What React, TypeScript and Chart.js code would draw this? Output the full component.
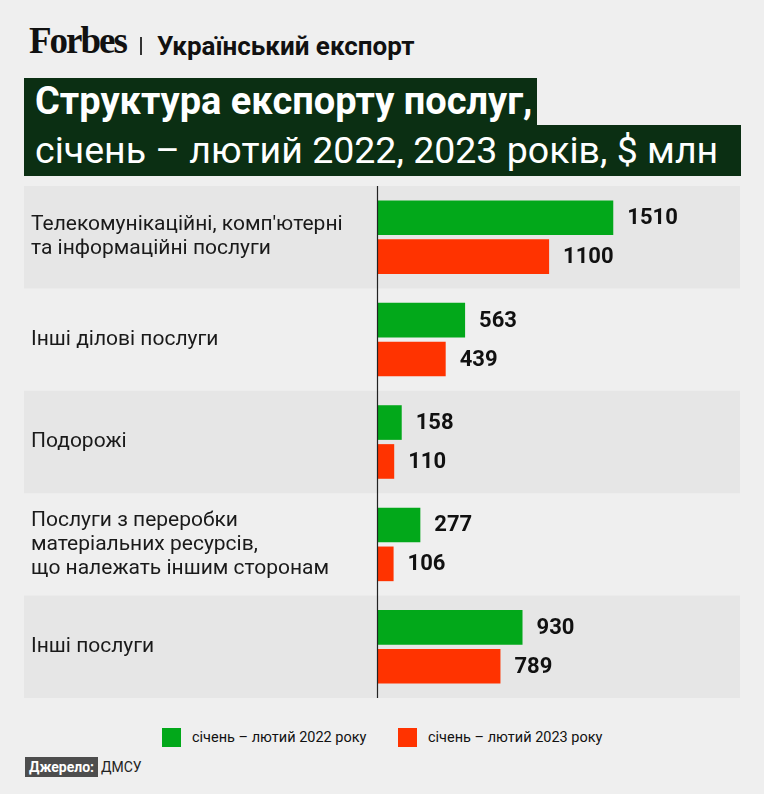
import React, { useEffect, useRef } from 'react';
import { Chart, registerables } from 'chart.js';

Chart.register(...registerables);

// data
const categories: string[][] = [
  ["Телекомунікаційні, комп'ютерні", 'та інформаційні послуги'],
  ['Інші ділові послуги'],
  ['Подорожі'],
  ['Послуги з переробки', 'матеріальних ресурсів,', 'що належать іншим сторонам'],
  ['Інші послуги'],
];
const values2022 = [1510, 563, 158, 277, 930];
const values2023 = [1100, 439, 110, 106, 789];
const seriesNames = ['січень – лютий 2022 року', 'січень – лютий 2023 року'];

const GREEN = '#02a81a';
const RED = '#ff3300';
const BAND = '#e6e6e6';
const PAGE = '#efefef';
const FONT = 'Roboto, "Noto Sans", sans-serif';

// gray stripes behind every other category + the zero axis line + value labels
const decorPlugin = {
  id: 'decor',
  beforeDraw(chart: any) {
    const { ctx, chartArea, scales } = chart;
    const y = scales.y;
    const n = categories.length;
    const h = (chartArea.bottom - chartArea.top) / n;
    ctx.save();
    ctx.fillStyle = BAND;
    for (let i = 0; i < n; i += 2) {
      const c = y.getPixelForValue(i);
      ctx.fillRect(24, c - h / 2, 716, h);
    }
    ctx.restore();
  },
  afterDatasetsDraw(chart: any) {
    const { ctx, chartArea, scales } = chart;
    const x0 = Math.round(scales.x.getPixelForValue(0)) + 0.5;
    ctx.save();
    ctx.strokeStyle = '#222';
    ctx.lineWidth = 1.2;
    ctx.beginPath();
    ctx.moveTo(x0, chartArea.top);
    ctx.lineTo(x0, chartArea.bottom);
    ctx.stroke();

    ctx.fillStyle = '#111';
    ctx.font = `700 22px ${FONT}`;
    ctx.textBaseline = 'middle';
    ctx.textAlign = 'left';
    chart.data.datasets.forEach((ds: any, di: number) => {
      const meta = chart.getDatasetMeta(di);
      meta.data.forEach((el: any, i: number) => {
        ctx.fillText(String(ds.data[i]), el.x + 14, el.y + 1);
      });
    });
    ctx.restore();
  },
};

function BarChart() {
  const canvasRef = useRef<HTMLCanvasElement>(null);

  useEffect(() => {
    if (!canvasRef.current) return;
    const chart = new Chart(canvasRef.current, {
      type: 'bar',
      data: {
        labels: categories,
        datasets: [
          {
            label: seriesNames[0],
            data: values2022,
            backgroundColor: GREEN,
            categoryPercentage: 0.76,
            barPercentage: 0.89,
          },
          {
            label: seriesNames[1],
            data: values2023,
            backgroundColor: RED,
            categoryPercentage: 0.76,
            barPercentage: 0.89,
          },
        ],
      },
      options: {
        indexAxis: 'y',
        animation: false,
        responsive: true,
        maintainAspectRatio: false,
        layout: { padding: { left: 31, right: 24, top: 6, bottom: 7 } },
        plugins: {
          legend: { display: false },
          tooltip: { enabled: false },
        },
        scales: {
          x: {
            display: false,
            min: 0,
            max: 2320,
          },
          y: {
            grid: { display: false },
            border: { display: false },
            afterFit(scale: any) {
              scale.width = 346;
              scale.paddingTop = 0;
              scale.paddingBottom = 0;
            },
            ticks: {
              autoSkip: false,
              crossAlign: 'far',
              color: '#1a1a1a',
              font: { family: FONT, size: 21, lineHeight: '24px' },
            },
          },
        },
      },
      plugins: [decorPlugin],
    });
    return () => chart.destroy();
  }, []);

  return <canvas ref={canvasRef} />;
}

export default function App() {
  useEffect(() => {
    document.body.style.margin = '0';
    document.body.style.background = PAGE;
  }, []);

  const abs = (s: React.CSSProperties): React.CSSProperties => ({ position: 'absolute', ...s });

  return (
    <div style={{ position: 'relative', width: 764, height: 794, background: PAGE, fontFamily: FONT, overflow: 'hidden' }}>
      {/* header */}
      <div style={abs({ left: 29, top: 21, lineHeight: '40px', fontFamily: '"Liberation Serif", serif', fontWeight: 700, fontSize: 37, letterSpacing: -2, color: '#111' })}>
        Forbes
      </div>
      <div style={abs({ left: 140, top: 37, width: 1.5, height: 18, background: '#333' })} />
      <div style={abs({ left: 157, top: 26, lineHeight: '40px', fontWeight: 700, fontSize: 26, color: '#111' })}>
        Український експорт
      </div>

      {/* title */}
      <div style={abs({ left: 24, top: 78, width: 513, height: 47, background: '#0b2f13' })} />
      <div style={abs({ left: 24, top: 125, width: 717, height: 51, background: '#0b2f13' })} />
      <div style={abs({ left: 35, top: 78, height: 47, lineHeight: '47px', fontWeight: 700, fontSize: 38, color: '#fff' })}>
        Структура експорту послуг,
      </div>
      <div style={abs({ left: 35, top: 125, height: 51, lineHeight: '51px', fontWeight: 400, fontSize: 37.5, color: '#fff' })}>
        січень – лютий 2022, 2023 років, $ млн
      </div>

      {/* chart */}
      <div style={abs({ left: 0, top: 180, width: 764, height: 525 })}>
        <BarChart />
      </div>

      {/* legend */}
      <div style={abs({ left: 162, top: 728, width: 19, height: 19, background: GREEN })} />
      <div style={abs({ left: 192, top: 728, lineHeight: '19px', fontSize: 14.5, color: '#111' })}>{seriesNames[0]}</div>
      <div style={abs({ left: 398, top: 728, width: 19, height: 19, background: RED })} />
      <div style={abs({ left: 428, top: 728, lineHeight: '19px', fontSize: 14.5, color: '#111' })}>{seriesNames[1]}</div>

      {/* source */}
      <div style={abs({ left: 25, top: 757, display: 'flex', alignItems: 'center', height: 20, fontSize: 14 })}>
        <span style={{ width: 73, height: 20, lineHeight: '20px', textAlign: 'center', background: '#4d4d4d', color: '#fff', fontWeight: 700 }}>
          Джерело:
        </span>
        <span style={{ marginLeft: 3, color: '#222' }}>ДМСУ</span>
      </div>
    </div>
  );
}
